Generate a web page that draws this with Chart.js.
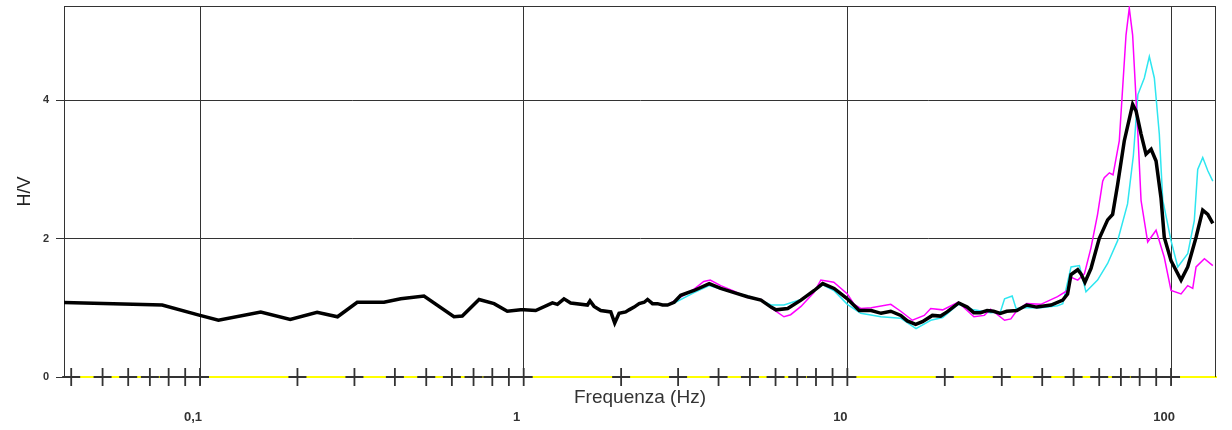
<!DOCTYPE html>
<html>
<head>
<meta charset="utf-8">
<script src="https://cdn.jsdelivr.net/npm/chart.js@4"></script>
<style>
  body { margin: 0; background: #fff; }
  canvas { display: block; }
</style>
</head>
<body>
<canvas id="myChart" width="1232" height="430"></canvas>
<script>
// tratto comune (le tre curve coincidono sotto ~3 Hz)
var freqLow = [0.038, 0.0764, 0.1, 0.114, 0.154, 0.19, 0.23, 0.266, 0.306, 0.37, 0.417, 0.492, 0.609, 0.646, 0.728, 0.81, 0.89, 0.979,
  1.002, 1.089, 1.227, 1.271, 1.332, 1.397, 1.574, 1.603, 1.65, 1.73, 1.858, 1.911, 1.971, 2.066, 2.116, 2.194, 2.274, 2.357, 2.414, 2.5, 2.591, 2.685, 2.782];
var hvLow = [1.075, 1.04, 0.89, 0.82, 0.94, 0.83, 0.935, 0.87, 1.08, 1.08, 1.13, 1.17, 0.87, 0.88, 1.12, 1.06, 0.95, 0.97,
  0.97, 0.96, 1.07, 1.05, 1.13, 1.07, 1.04, 1.10, 1.02, 0.96, 0.94, 0.78, 0.92, 0.94, 0.97, 1.01, 1.06, 1.08, 1.12, 1.06, 1.06, 1.04, 1.04];

// media H/V (nera)
var freqMean = [2.916, 3.056, 3.361, 3.743, 4.061, 4.468, 4.915, 5.408, 5.81, 6.02, 6.54, 7.19, 7.9, 8.39, 9.1, 10.0, 10.88, 11.85, 12.71, 13.62,
  14.62, 15.32, 16.26, 17.06, 18.31, 19.41, 20.33, 22.08, 23.45, 24.59, 25.78, 27.02, 28.31, 29.67, 31.09, 33.38, 35.83, 38.47, 42.6, 46.3,
  47.9, 49.1, 51.5, 52.7, 54.2, 56.6, 60.0, 63.7, 66.0, 68.4, 71.7, 76.1, 78.0, 80.8, 83.7, 86.8, 89.9, 93.1, 95.3, 100, 107.4, 112.6,
  119.5, 125.3, 129.9, 134.6];
var hvMean = [1.08, 1.18, 1.25, 1.35, 1.28, 1.22, 1.16, 1.11, 1.01, 0.97, 0.99, 1.11, 1.25, 1.35, 1.28, 1.13, 0.96, 0.96, 0.92, 0.95,
  0.89, 0.81, 0.76, 0.80, 0.89, 0.88, 0.94, 1.07, 1.01, 0.93, 0.93, 0.96, 0.95, 0.92, 0.95, 0.96, 1.04, 1.01, 1.04, 1.11,
  1.20, 1.48, 1.55, 1.49, 1.37, 1.57, 2.0, 2.27, 2.35, 2.78, 3.41, 3.94, 3.84, 3.51, 3.22, 3.29, 3.12, 2.59, 2.02, 1.68, 1.40, 1.59,
  2.02, 2.41, 2.35, 2.22];

// curva magenta
var freqMag = [2.916, 3.361, 3.6, 3.77, 4.061, 4.468, 4.915, 5.408, 5.81, 6.37, 6.68, 7.19, 7.88, 8.28, 9.08, 10.0, 10.5, 11.0, 11.85, 13.62,
  14.62, 15.88, 17.28, 18.1, 19.7, 22.0, 24.6, 26.5, 27.7, 30.6, 32.0, 33.4, 35.8, 39.6, 44.6, 47.9, 49.1, 51.5, 54.0, 56.6,
  59.3, 61.5, 62.2, 64.5, 66.2, 69.2, 72.6, 74.3, 76.1, 79.0, 80.8, 84.7, 89.9, 95.3, 100, 107.4, 112.6, 116.7, 119.5, 126.8, 134.6];
var hvMag = [1.10, 1.27, 1.38, 1.40, 1.32, 1.24, 1.15, 1.12, 1.00, 0.87, 0.90, 1.02, 1.22, 1.40, 1.37, 1.20, 1.05, 0.99, 1.00, 1.05,
  0.95, 0.82, 0.89, 0.99, 0.97, 1.08, 0.87, 0.89, 0.98, 0.82, 0.84, 0.96, 1.06, 1.05, 1.16, 1.25, 1.44, 1.40, 1.49, 1.87,
  2.35, 2.83, 2.88, 2.95, 2.92, 3.41, 4.94, 5.33, 4.94, 3.51, 2.55, 1.95, 2.12, 1.73, 1.25, 1.20, 1.32, 1.28, 1.59, 1.71, 1.61];

// curva ciano
var freqCyan = [2.916, 3.361, 3.743, 4.061, 4.468, 4.915, 5.408, 5.81, 6.37, 7.19, 7.88, 8.39, 9.08, 10.0, 11.0, 12.7, 14.6, 16.3, 18.1, 19.7,
  22.0, 24.6, 27.7, 29.7, 30.6, 32.3, 33.2, 35.8, 39.6, 44.6, 46.3, 49.1, 52.1, 54.6, 59.3, 63.7, 68.4, 73.4, 76.5, 79.0,
  82.7, 85.7, 88.8, 92.0, 94.3, 95.3, 100, 104.9, 112.6, 118.0, 120.9, 125.3, 129.9, 134.6];
var hvCyan = [1.07, 1.22, 1.32, 1.27, 1.22, 1.17, 1.11, 1.04, 1.04, 1.12, 1.24, 1.33, 1.25, 1.05, 0.92, 0.87, 0.85, 0.70, 0.82, 0.86,
  1.05, 0.97, 0.93, 0.94, 1.13, 1.17, 0.99, 1.00, 1.00, 1.03, 1.06, 1.59, 1.61, 1.23, 1.40, 1.64, 1.97, 2.5, 3.2, 4.08,
  4.32, 4.63, 4.32, 3.51, 2.55, 2.45, 1.97, 1.59, 1.78, 2.26, 3.0, 3.17, 2.98, 2.83];

// assi
var xMajor = [0.1, 1, 10, 100];
var xTickLabels = ['0,1', '1', '10', '100'];
var xMinor = [0.04, 0.05, 0.06, 0.07, 0.08, 0.09, 0.1, 0.2, 0.3, 0.4, 0.5, 0.6, 0.7, 0.8, 0.9, 1, 2, 3, 4, 5, 6, 7, 8, 9,
  10, 20, 30, 40, 50, 60, 70, 80, 90, 100];
var yTicks = [0, 2, 4];

function toPoints(fx, fy) {
  return fx.map(function (f, i) { return { x: f, y: fy[i] }; });
}

Chart.defaults.font.family = "'Liberation Sans', Arial, sans-serif";

// cornice sopra e a destra
var frame = {
  id: 'frame',
  beforeDatasetsDraw: function (chart) {
    var ctx = chart.ctx, a = chart.chartArea;
    ctx.save();
    ctx.strokeStyle = '#333';
    ctx.lineWidth = 1;
    ctx.beginPath();
    ctx.moveTo(a.left, a.top + 0.5);
    ctx.lineTo(a.right, a.top + 0.5);
    ctx.moveTo(a.right - 0.5, a.top);
    ctx.lineTo(a.right - 0.5, a.bottom);
    ctx.stroke();
    ctx.restore();
  }
};

var XMIN = 0.038, XMAX = 137.7;

var ctx = document.getElementById('myChart').getContext('2d');
var myChart = new Chart(ctx, {
  type: 'line',
  data: {
    datasets: [{
      label: 'H/V',
      data: toPoints(freqLow.concat(freqMean), hvLow.concat(hvMean)),
      borderColor: '#000',
      borderWidth: 3.5,
      pointRadius: 0,
      tension: 0
    }, {
      label: 'H/V 1',
      data: toPoints(freqLow.concat(freqMag), hvLow.concat(hvMag)),
      borderColor: '#ff00ff',
      borderWidth: 1.5,
      pointRadius: 0,
      tension: 0
    }, {
      label: 'H/V 2',
      data: toPoints(freqLow.concat(freqCyan), hvLow.concat(hvCyan)),
      borderColor: '#2ee6f0',
      borderWidth: 1.5,
      pointRadius: 0,
      tension: 0
    }, {
      label: 'tacche',
      data: xMinor.map(function (f) { return { x: f, y: 0 }; }),
      showLine: false,
      pointStyle: 'cross',
      pointRadius: 9,
      pointBorderColor: '#333',
      pointBorderWidth: 1.8,
      clip: false
    }]
  },
  options: {
    responsive: false,
    animation: false,
    devicePixelRatio: 1,
    layout: { autoPadding: false, padding: { left: 0, right: 16, top: 6, bottom: 0 } },
    plugins: { legend: { display: false }, tooltip: { enabled: false } },
    scales: {
      x: {
        type: 'logarithmic',
        position: 'bottom',
        min: XMIN, max: XMAX,
        afterBuildTicks: function (s) { s.ticks = xMajor.map(function (v) { return { value: v }; }); },
        afterFit: function (s) { s.height = 32; },
        ticks: { display: false },
        grid: { color: '#333', tickColor: '#333', tickLength: 8, lineWidth: 1 },
        border: { color: '#ffff00', width: 2 },
        title: { display: true, text: 'Frequenza (Hz)', color: '#333', font: { size: 19 }, padding: 0 }
      },
      xLab: {
        type: 'logarithmic',
        position: 'bottom',
        weight: 1,
        min: XMIN, max: XMAX,
        afterBuildTicks: function (s) { s.ticks = xMajor.map(function (v) { return { value: v }; }); },
        afterFit: function (s) { s.height = 21; s.paddingLeft = 0; s.paddingRight = 0; },
        ticks: {
          callback: function (v, i) { return xTickLabels[i]; },
          autoSkip: false, maxRotation: 0,
          color: '#333', font: { size: 13, weight: 'bold' },
          padding: 1, labelOffset: -7
        },
        grid: { display: false, drawTicks: false },
        border: { display: false }
      },
      y: {
        min: 0, max: 5.36,
        afterBuildTicks: function (s) { s.ticks = yTicks.map(function (v) { return { value: v }; }); },
        afterFit: function (s) { s.width = 64; s.paddingTop = 0; s.paddingBottom = 0; },
        ticks: { color: '#333', font: { size: 11, weight: 'bold' }, padding: 7 },
        grid: {
          color: function (c) { return c.tick && c.tick.value === 0 ? 'rgba(0,0,0,0)' : '#333'; },
          tickColor: '#333', tickLength: 8
        },
        border: { color: '#333' },
        title: { display: true, text: 'H/V', color: '#222', font: { size: 18 }, padding: { top: 14, bottom: 0 } }
      }
    }
  },
  plugins: [frame]
});
</script>
</body>
</html>
